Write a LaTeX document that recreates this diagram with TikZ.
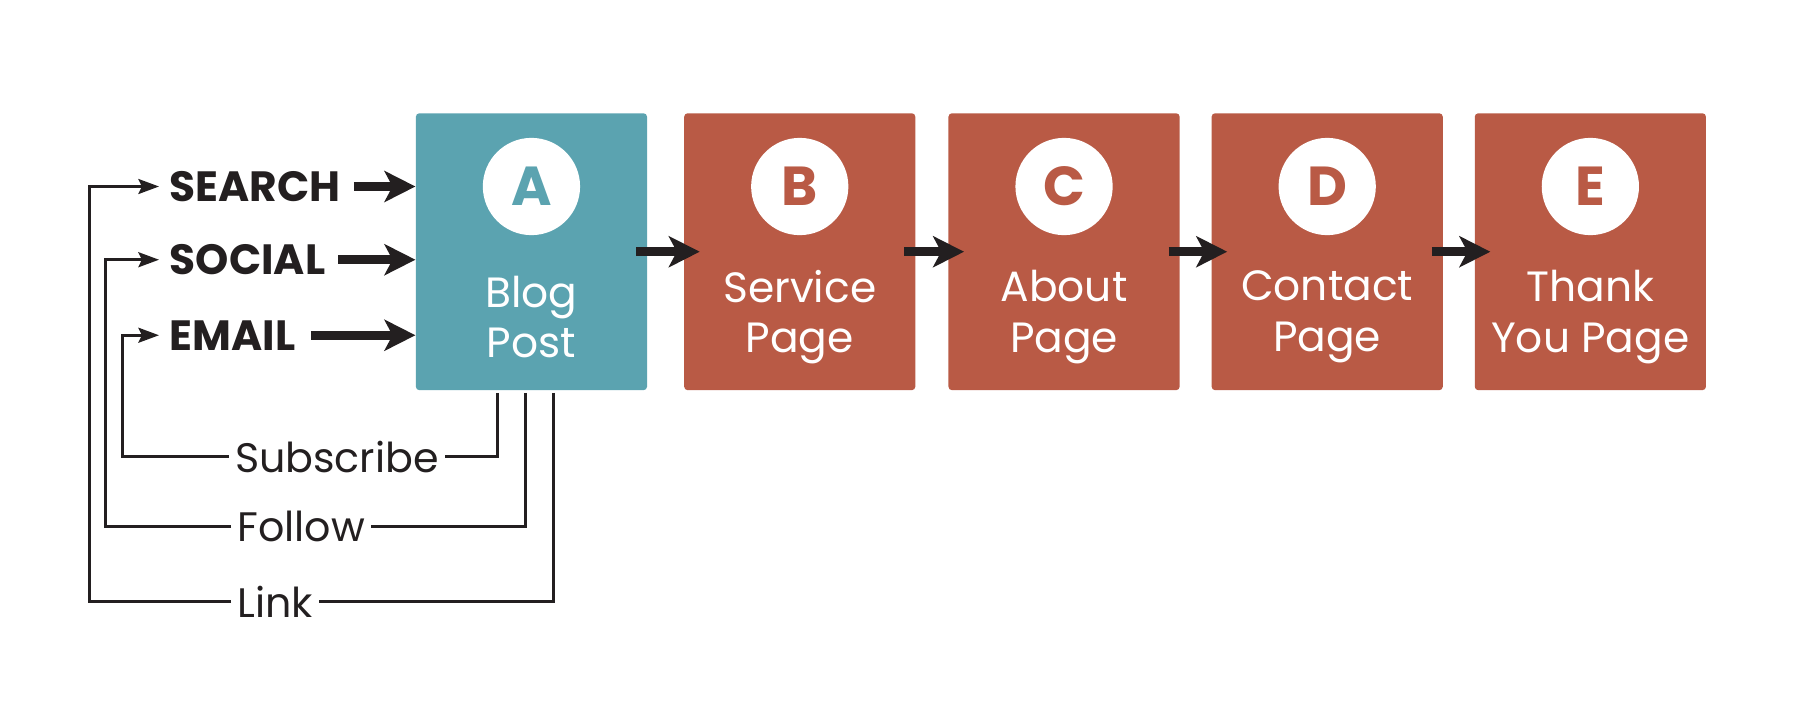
\documentclass[tikz,border=0pt]{standalone}
\usepackage{fontspec}
\setmainfont{Poppins}
\usetikzlibrary{arrows.meta}
\definecolor{tealbox}{HTML}{5BA3B0}
\definecolor{rustbox}{HTML}{B95A45}
\definecolor{ink}{HTML}{231F20}
\begin{document}
\begin{tikzpicture}[x=0.5pt,y=-0.5pt,page/.style={shape=rectangle,rounded corners=1.5pt,minimum width=101pt,minimum height=121pt,inner sep=0pt},pageA/.style={page,fill=tealbox},pageR/.style={page,fill=rustbox},badge/.style={shape=circle,fill=white,minimum size=42.5pt,inner sep=0pt,font=\fontsize{24}{24}\selectfont\bfseries},title/.style={text=white,align=center,font=\fontsize{18.5}{22}\selectfont},src/.style={anchor=west,inner sep=0pt,text=ink,font=\fontsize{18.5}{18.5}\selectfont\bfseries},back/.style={anchor=west,inner xsep=2.5pt,inner ysep=0pt,text=ink,font=\fontsize{18}{18}\selectfont},flow/.style={draw=ink,line width=4pt,-{Stealth[length=13.5pt,width=13.5pt,inset=3.5pt]}},fb/.style={draw=ink,line width=1.4pt},fbtip/.style={fb,-{Stealth[length=9pt,width=6.5pt,inset=1.5pt]}}]
\def\py{220};
\def\cy{163};
\def\ty{277};

\useasboundingbox (0,0) rectangle (1568,634);

\node[pageA] (A) at (464.5,\py) {};
\node[pageR] (B) at (699,\py) {};
\node[pageR] (C) at (930,\py) {};
\node[pageR] (D) at (1160,\py) {};
\node[pageR] (E) at (1390,\py) {};

\node[badge,text=tealbox] (ca) at (464.5,\cy) {A};
\node[badge,text=rustbox] (cb) at (699,\cy) {B};
\node[badge,text=rustbox] (cc) at (930,\cy) {C};
\node[badge,text=rustbox] (cd) at (1160,\cy) {D};
\node[badge,text=rustbox] (ce) at (1390,\cy) {E};

\node[title] (ta) at (464.5,\ty) {Blog\\Post};
\node[title] (tb) at (699,\ty) {Service\\Page};
\node[title] (tc) at (930,\ty) {About\\Page};
\node[title] (td) at (1160,\ty) {Contact\\Page};
\node[title] (te) at (1390,\ty) {Thank\\You Page};

\draw[flow] ([xshift=-5pt]A.east) -- ([xshift=7pt]B.west);
\draw[flow] ([xshift=-5pt]B.east) -- ([xshift=7pt]C.west);
\draw[flow] ([xshift=-5pt]C.east) -- ([xshift=7pt]D.west);
\draw[flow] ([xshift=-5pt]D.east) -- ([xshift=7pt]E.west);

\node[src] (srch) at (148,163) {SEARCH};
\node[src] (soc) at (148,227) {SOCIAL};
\node[src] (mail) at (148,293) {EMAIL};
\draw[flow] ([xshift=5.5pt]srch.east) -- (srch.east -| A.west);
\draw[flow] ([xshift=5.5pt]soc.east) -- (soc.east -| A.west);
\draw[flow] ([xshift=6.5pt]mail.east) -- (mail.east -| A.west);

\node[back] (subs) at (200,399) {Subscribe};
\node[back] (foll) at (202,460) {Follow};
\node[back] (lnk) at (202,526) {Link};
\coordinate (colE) at (107,0);
\coordinate (colS) at (92.5,0);
\coordinate (colL) at (78.5,0);

\draw[fb] ([xshift=-15pt,yshift=-1pt]A.south) |- (subs.east);
\draw[fbtip] (subs.west) -- (subs.west -| colE) |- ([xshift=-4.5pt]mail.west);
\draw[fb] ([xshift=-2.5pt,yshift=-1pt]A.south) |- (foll.east);
\draw[fbtip] (foll.west) -- (foll.west -| colS) |- ([xshift=-4.5pt]soc.west);
\draw[fb] ([xshift=9.5pt,yshift=-1pt]A.south) |- (lnk.east);
\draw[fbtip] (lnk.west) -- (lnk.west -| colL) |- ([xshift=-4.5pt]srch.west);
\end{tikzpicture}
\end{document}
